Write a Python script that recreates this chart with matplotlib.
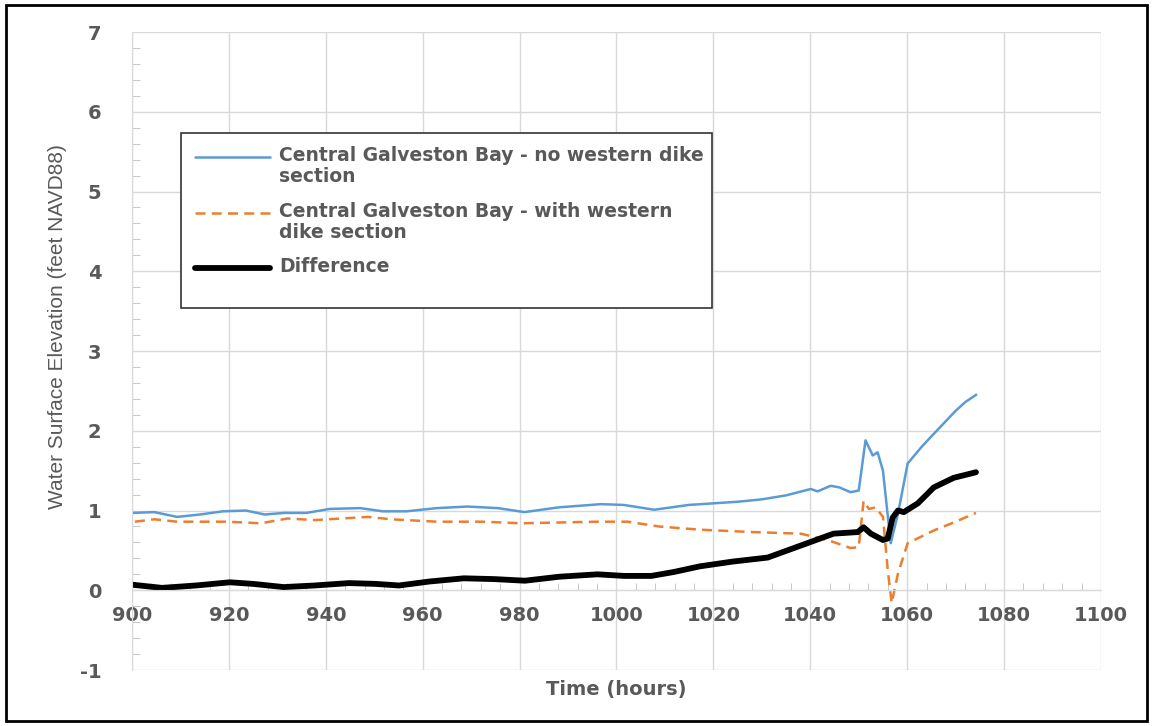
import matplotlib
matplotlib.use('Agg')
import matplotlib.pyplot as plt
from matplotlib.patches import Rectangle
from matplotlib.lines import Line2D
from matplotlib.ticker import MultipleLocator

plt.rcParams['axes.unicode_minus'] = False

# --- data ---
hours_no_dike = [900, 904.6, 909.3, 914, 918.8, 923.5, 927.4, 931.4, 936, 940.8, 947.1, 951.8,
                 956.6, 962.9, 969.2, 975.5, 981, 988.1, 996.8, 1001.5, 1007.8, 1014.9, 1020,
                 1025, 1030, 1035, 1040.1, 1041.5, 1044.2, 1046, 1048.3, 1050, 1051.4, 1052.9,
                 1053.9, 1055, 1056.6, 1058.1, 1060.1, 1063, 1065, 1070, 1072, 1074.2]
wse_no_dike = [0.97, 0.98, 0.92, 0.95, 0.99, 1.00, 0.95, 0.97, 0.97, 1.02, 1.03, 0.99,
               0.99, 1.03, 1.05, 1.03, 0.98, 1.04, 1.08, 1.07, 1.01, 1.07, 1.09,
               1.11, 1.14, 1.19, 1.27, 1.24, 1.31, 1.29, 1.23, 1.25, 1.88, 1.69,
               1.73, 1.50, 0.59, 0.96, 1.59, 1.80, 1.93, 2.25, 2.36, 2.45]

hours_dike = [900.6, 904.6, 909.3, 919.5, 926.6, 932.1, 937.7, 948.7, 953.5, 962.9, 972.4,
              980.3, 988.2, 996.1, 1002.4, 1008.7, 1017.2, 1028, 1038, 1043.6, 1048.3, 1050,
              1051, 1052.1, 1053.5, 1055, 1056, 1056.8, 1058.1, 1060.1, 1065.5, 1070, 1074.2]
wse_dike = [0.86, 0.89, 0.86, 0.86, 0.84, 0.90, 0.88, 0.92, 0.89, 0.86, 0.86,
            0.84, 0.85, 0.86, 0.86, 0.80, 0.76, 0.73, 0.71, 0.63, 0.53, 0.54,
            1.12, 1.02, 1.04, 0.92, 0.25, -0.16, 0.21, 0.59, 0.75, 0.86, 0.97]

hours_diff = [900, 906.2, 913.2, 920.2, 925, 931.3, 937.7, 944.8, 950.3, 955.1, 961.4, 968.5,
              974.8, 981.1, 988.2, 996.1, 1001.6, 1007.2, 1011.9, 1017.2, 1024, 1031.2, 1038,
              1044.8, 1049.8, 1051, 1052.5, 1055, 1056, 1057, 1058.1, 1059.3, 1062.2, 1065.5,
              1069.6, 1074.2]
wse_diff = [0.07, 0.03, 0.06, 0.10, 0.08, 0.04, 0.06, 0.09, 0.08, 0.06, 0.11, 0.15,
            0.14, 0.12, 0.17, 0.20, 0.18, 0.18, 0.23, 0.30, 0.36, 0.41, 0.56,
            0.71, 0.73, 0.79, 0.71, 0.63, 0.65, 0.91, 1.00, 0.98, 1.09, 1.29,
            1.41, 1.48]

labels = ['Central Galveston Bay - no western dike\nsection',
          'Central Galveston Bay - with western\ndike section',
          'Difference']

grey = '#595959'
grid_c = '#d9d9d9'
blue = '#5b9bd5'
orange = '#ed7d31'
dash = (0, (4, 2.5))

W, H = 1152, 726
def px(x, y):
    # figure pixel -> figure fraction (for the hand-drawn legend box)
    return x / W, 1 - y / H

fig = plt.figure(figsize=(W / 100, H / 100), dpi=100)
ax = fig.add_axes([0.1146, 0.0771, 0.8411, 0.8788])

ax.plot(hours_no_dike, wse_no_dike, color=blue, lw=1.8)
ax.plot(hours_dike, wse_dike, color=orange, lw=1.8, ls=dash)
ax.plot(hours_diff, wse_diff, color='black', lw=4.2, solid_capstyle='round')

ax.set_xlim(900, 1100)
ax.set_ylim(-1, 7)
ax.xaxis.set_major_locator(MultipleLocator(20))
ax.xaxis.set_minor_locator(MultipleLocator(4))
ax.yaxis.set_major_locator(MultipleLocator(1))
ax.yaxis.set_minor_locator(MultipleLocator(0.2))
ax.grid(True, which='major', color=grid_c, lw=1)
ax.set_axisbelow(True)

for s in ['top', 'right']:
    ax.spines[s].set_visible(False)
ax.spines['bottom'].set_position(('data', 0))
ax.spines['bottom'].set_color(grid_c)
ax.spines['left'].set_color(grid_c)

ax.tick_params(axis='x', which='major', length=0, pad=11, labelsize=14, labelcolor=grey)
ax.tick_params(axis='x', which='minor', direction='in', length=5, color='#bfbfbf')
ax.tick_params(axis='y', which='major', length=0, pad=22, labelsize=14, labelcolor=grey)
ax.tick_params(axis='y', which='minor', direction='in', length=6, color='#bfbfbf')
for t in ax.get_xticklabels() + ax.get_yticklabels():
    t.set_fontweight('bold')

ax.set_xlabel('Time (hours)', fontsize=14, fontweight='bold', color=grey)
ax.xaxis.set_label_coords(0.5, -0.016)
ax.set_ylabel('Water Surface Elevation (feet NAVD88)', fontsize=15, color=grey,
              family='Liberation Sans')
ax.yaxis.set_label_coords(-0.067, 0.539)

# legend drawn by hand so the handles sit on the first line of each label
fig.patches.append(Rectangle(px(181, 308), (712 - 181) / W, (308 - 133) / H,
                             transform=fig.transFigure, facecolor='white',
                             edgecolor='#333333', lw=1.2, zorder=5))
handles = [(157, blue, 1.8, '-'), (213, orange, 1.8, dash), (268, 'black', 4.2, '-')]
for (hy, c, lw, ls), lab in zip(handles, labels):
    (x0, yy), (x1, _) = px(195, hy), px(270, hy)
    fig.add_artist(Line2D([x0, x1], [yy, yy], color=c, lw=lw, ls=ls,
                          solid_capstyle='round', zorder=6))
    tx, ty = px(279, hy - 11)
    fig.text(tx, ty, lab, fontsize=13.5, fontweight='bold', color=grey,
             va='top', ha='left', linespacing=1.15, zorder=6)

fig.patches.append(Rectangle((0.005, 0.007), 0.991, 0.986, transform=fig.transFigure,
                             fill=False, edgecolor='black', lw=2))

fig.savefig('out.png', dpi=100)
